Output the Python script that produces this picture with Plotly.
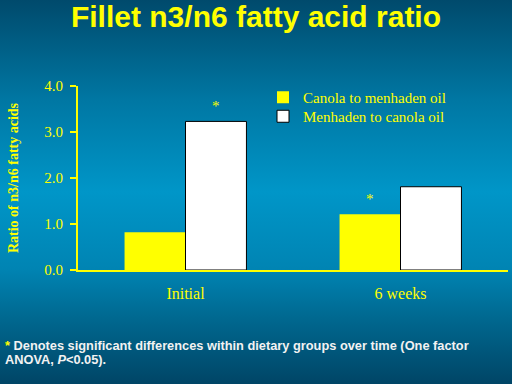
import base64
import plotly.graph_objects as go

# ---- data ----
categories = ["Initial", "6 weeks"]
canola_to_menhaden = [0.82, 1.21]
menhaden_to_canola = [3.23, 1.81]
canola_sig = [False, True]
menhaden_sig = [True, False]
y_ticks = [0, 1, 2, 3, 4]
y_tick_labels = ["0.0", "1.0", "2.0", "3.0", "4.0"]
title_text = "Fillet n3/n6 fatty acid ratio"
y_title = "Ratio of n3/n6 fatty acids"
footnote_lines = [
    "<span style='color:#ffff00'>*</span> Denotes significant differences within dietary groups over time (One factor",
    "ANOVA, <i>P</i>&lt;0.05).",
]

W, H = 512, 384
ML, MR, MT, MB = 78, 4, 86, 114
PW, PH = W - ML - MR, H - MT - MB

def px_x(p):
    return (p - ML) / PW

def px_y(p):
    return (H - MB - p) / PH

YEL = "#ffff00"
SERIF = "Liberation Serif, Times New Roman, serif"
SANS = "Liberation Sans, Arial, sans-serif"

# gradient background as an svg image
svg = (
    "<svg xmlns='http://www.w3.org/2000/svg' width='512' height='384' preserveAspectRatio='none'>"
    "<defs><linearGradient id='g' x1='0' y1='0' x2='0' y2='1'>"
    "<stop offset='0' stop-color='#004a6c'/>"
    "<stop offset='0.26' stop-color='#0077a3'/>"
    "<stop offset='0.5' stop-color='#0096c8'/>"
    "<stop offset='0.7' stop-color='#0084b3'/>"
    "<stop offset='0.82' stop-color='#006a92'/>"
    "<stop offset='1' stop-color='#004566'/>"
    "</linearGradient></defs>"
    "<rect width='512' height='384' fill='url(#g)'/></svg>"
)
bg_uri = "data:image/svg+xml;base64," + base64.b64encode(svg.encode()).decode()

fig = go.Figure()
fig.add_trace(go.Bar(
    x=categories, y=canola_to_menhaden, name="Canola to menhaden oil",
    marker=dict(color=YEL, line=dict(width=0)), legend="legend",
))
fig.add_trace(go.Bar(
    x=categories, y=menhaden_to_canola, name="Menhaden to canola oil",
    marker=dict(color="#ffffff", line=dict(color="#000000", width=1)), legend="legend2",
))

annotations = []
for i, c in enumerate(categories):
    for vals, sig, shift in ((canola_to_menhaden, canola_sig, -30.5), (menhaden_to_canola, menhaden_sig, 30.5)):
        if sig[i]:
            annotations.append(dict(
                x=c, y=vals[i], xref="x", yref="y", text="*", showarrow=False,
                xshift=shift, yshift=5, yanchor="bottom",
                font=dict(family=SERIF, size=15, color=YEL),
            ))

for k, line in enumerate(footnote_lines):
    annotations.append(dict(
        xref="paper", yref="paper", x=px_x(3), y=px_y(336 + 14 * k),
        xanchor="left", yanchor="top", align="left", showarrow=False,
        text=line,
        font=dict(family=SANS, size=12.8, color="#f2f2f2", weight="bold"),
    ))

legend_common = dict(
    xanchor="left", yanchor="top",
    bgcolor="rgba(0,0,0,0)", borderwidth=0,
    font=dict(family=SERIF, size=15, color=YEL),
    itemwidth=30,
)

fig.update_layout(
    width=W, height=H,
    margin=dict(l=ML, r=MR, t=MT, b=MB, pad=0),
    paper_bgcolor="#0080b0",
    plot_bgcolor="rgba(0,0,0,0)",
    barmode="group", bargap=0.433, bargroupgap=0,
    title=dict(
        text="<b>" + title_text + "</b>",
        x=0.5, xref="container", xanchor="center",
        y=1 - 16 / H, yref="container", yanchor="middle",
        font=dict(family=SANS, size=30, color=YEL),
    ),
    images=[dict(
        source=bg_uri, xref="paper", yref="paper",
        x=px_x(0), y=px_y(0), sizex=W / PW, sizey=H / PH,
        xanchor="left", yanchor="top", sizing="stretch", layer="below",
    )],
    legend=dict(x=px_x(263), y=px_y(81), **legend_common),
    legend2=dict(x=px_x(263), y=px_y(100), **legend_common),
    xaxis=dict(
        range=[-0.5, 1.5], showline=True, linecolor=YEL, linewidth=2,
        showgrid=False, zeroline=False, ticks="",
        tickfont=dict(family=SERIF, size=16, color=YEL),
        ticklabelstandoff=8,
    ),
    yaxis=dict(
        range=[0, 4], showline=True, linecolor=YEL, linewidth=2,
        showgrid=False, zeroline=False,
        ticks="outside", ticklen=6, tickwidth=2, tickcolor=YEL,
        tickvals=y_ticks, ticktext=y_tick_labels,
        tickfont=dict(family=SERIF, size=15, color=YEL),
        ticklabelstandoff=4,
        title=dict(text="<b>" + y_title + "</b>", standoff=22,
                   font=dict(family=SERIF, size=14, color=YEL)),
    ),
    annotations=annotations,
    showlegend=True,
)

fig.write_html(
    "out.html",
    config={"displayModeBar": False},
    post_script="document.body.style.margin='0';document.body.style.background='#004a6c';",
)
